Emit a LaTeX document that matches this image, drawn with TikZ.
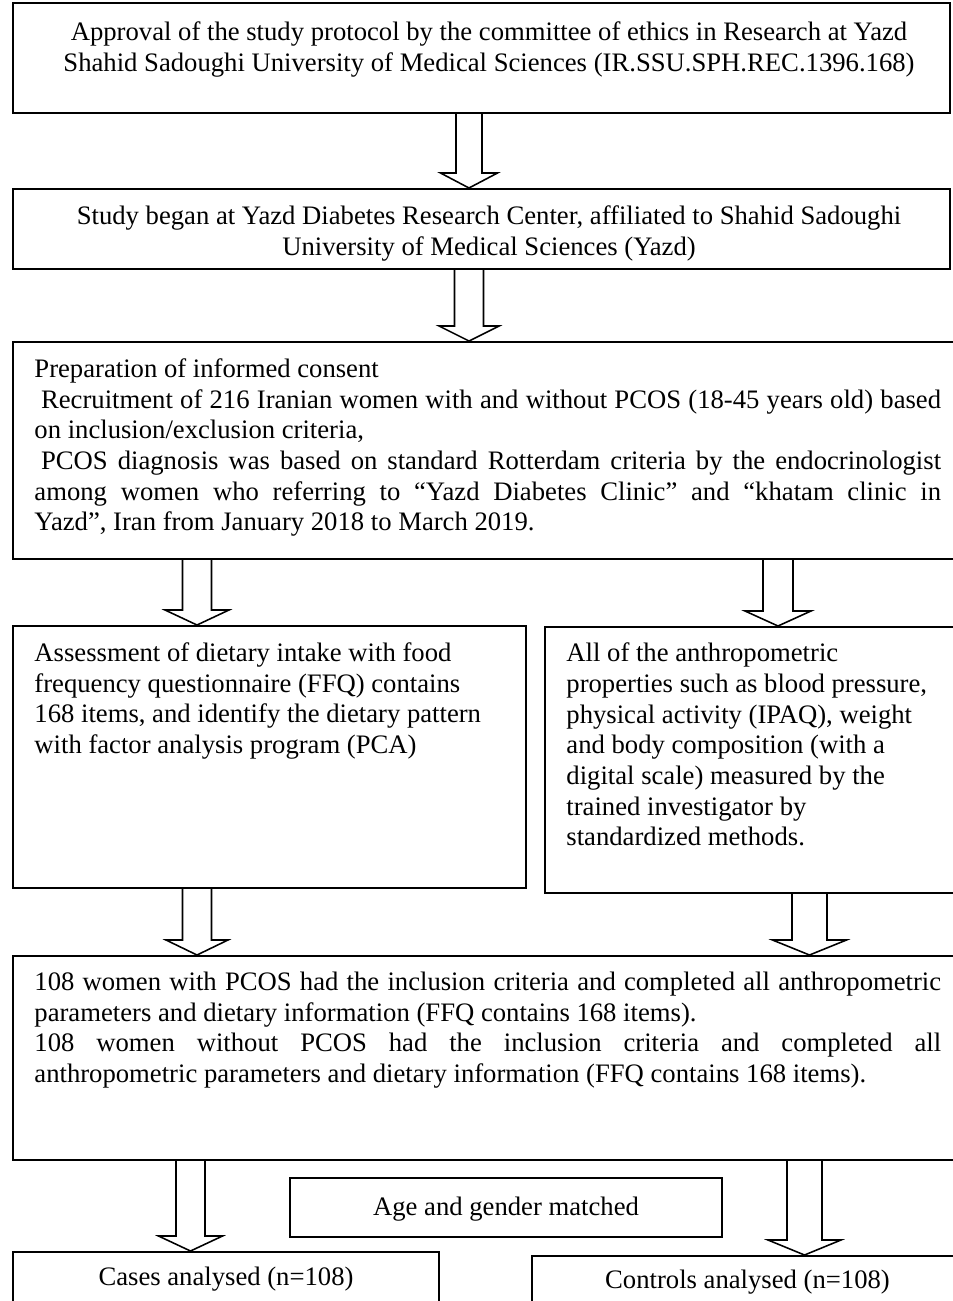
\documentclass[tikz,border=0pt]{standalone}
\usepackage{fontspec}
\setmainfont{Liberation Serif}
\usetikzlibrary{calc,fit}
\hyphenpenalty=10000
\exhyphenpenalty=10000

% hollow block arrow: column, from node, to node, half shaft, half head
\newcommand{\hollowarrow}[5]{%
  \draw[hollow] ($(#1 |- #2.south)+(-#4,0)$)
    -- ($(#1 |- #3.north)+(-#4,-15)$) -- ($(#1 |- #3.north)+(-#5,-15)$)
    -- (#1 |- #3.north)
    -- ($(#1 |- #3.north)+(#5,-15)$) -- ($(#1 |- #3.north)+(#4,-15)$)
    -- ($(#1 |- #2.south)+(#4,0)$);
}

\begin{document}
\begin{tikzpicture}[x=0.45pt, y=-0.45pt,
    frame/.style={draw, line width=0.9pt, inner sep=0pt},
    txt/.style={inner sep=0pt, font=\fontsize{12}{13.8}\selectfont},
    hollow/.style={draw, line width=0.7pt, line join=miter}
  ]
  \useasboundingbox (0,0) rectangle (953,1301);
  \clip (0,0) rectangle (953,1301);
  \fill[white] (0,0) rectangle (953,1301);

  % Frames
  \node[frame, fit={(13,3) (950,113)}] (approval) {};
  \node[frame, fit={(13,189) (950,269)}] (study) {};
  \node[frame, fit={(13,342) (975,559)}] (prep) {};
  \node[frame, fit={(13,626) (526,888)}] (diet) {};
  \node[frame, fit={(545,627) (975,893)}] (anthro) {};
  \node[frame, fit={(13,956) (975,1160)}] (women) {};
  \node[frame, fit={(290,1178) (722,1237)}] (matched) {};
  \node[frame, fit={(13,1252) (439,1330)}] (cases) {};
  \node[frame, fit={(532,1256) (975,1330)}] (controls) {};

  % Texts
  \node[txt, anchor=north, align=center] (approvaltxt) at (489,18.5)
    {\strut Approval of the study protocol by the committee of ethics in Research at Yazd\\
     Shahid Sadoughi University of Medical Sciences (IR.SSU.SPH.REC.1396.168)};
  \node[txt, anchor=north, align=center] (studytxt) at (489,203)
    {\strut Study began at Yazd Diabetes Research Center, affiliated to Shahid Sadoughi\\
     University of Medical Sciences (Yazd)};
  \node[txt, anchor=north west, text width=408pt, align=justify] (preptxt) at (34,355.5)
    {\strut Preparation of informed consent\\
     \hspace*{3pt}Recruitment of 216 Iranian women with and without PCOS (18-45 years old) based\linebreak
     on inclusion/exclusion criteria,\\
     \hspace*{3pt}PCOS diagnosis was based on standard Rotterdam criteria by the endocrinologist\linebreak
     among women who referring to “Yazd Diabetes Clinic” and “khatam clinic in\linebreak
     Yazd”, Iran from January 2018 to March 2019.};
  \node[txt, anchor=north west, align=left] (diettxt) at (34,639.5)
    {\strut Assessment of dietary intake with food\\
     frequency questionnaire (FFQ) contains\\
     168 items, and identify the dietary pattern\\
     with factor analysis program (PCA)};
  \node[txt, anchor=north west, align=left] (anthrotxt) at (566,640)
    {\strut All of the anthropometric\\
     properties such as blood pressure,\\
     physical activity (IPAQ), weight\\
     and body composition (with a\\
     digital scale) measured by the\\
     trained investigator by\\
     standardized methods.};
  \node[txt, anchor=north west, text width=408pt, align=justify] (womentxt) at (34,968.5)
    {\strut 108 women with PCOS had the inclusion criteria and completed all anthropometric\linebreak
     parameters and dietary information (FFQ contains 168 items).\\
     108 women without PCOS had the inclusion criteria and completed all\linebreak
     anthropometric parameters and dietary information (FFQ contains 168 items).};
  \node[txt, anchor=base] (matchedtxt) at (506,1215) {Age and gender matched};
  \node[txt, anchor=base] (casestxt) at (226,1285) {Cases analysed (n=108)};
  \node[txt, anchor=base] (controlstxt) at (747.5,1288) {Controls analysed (n=108)};

  % Arrow columns
  \coordinate (midcol) at (469,0);
  \coordinate (leftcol) at (197,0);
  \coordinate (rightcol) at (778,0);
  \coordinate (anthrocol) at (809.5,0);
  \coordinate (casescol) at (190.5,0);
  \coordinate (controlscol) at (804.5,0);

  % Arrows
  \hollowarrow{midcol}{approval}{study}{13}{28.5}
  \hollowarrow{midcol}{study}{prep}{14.5}{30}
  \hollowarrow{leftcol}{prep}{diet}{14.5}{32}
  \hollowarrow{rightcol}{prep}{anthro}{15}{33}
  \hollowarrow{leftcol}{diet}{women}{14.5}{31}
  \hollowarrow{anthrocol}{anthro}{women}{17.5}{37}
  \hollowarrow{casescol}{women}{cases}{14.5}{32}
  \hollowarrow{controlscol}{women}{controls}{17.5}{36.5}
\end{tikzpicture}
\end{document}
